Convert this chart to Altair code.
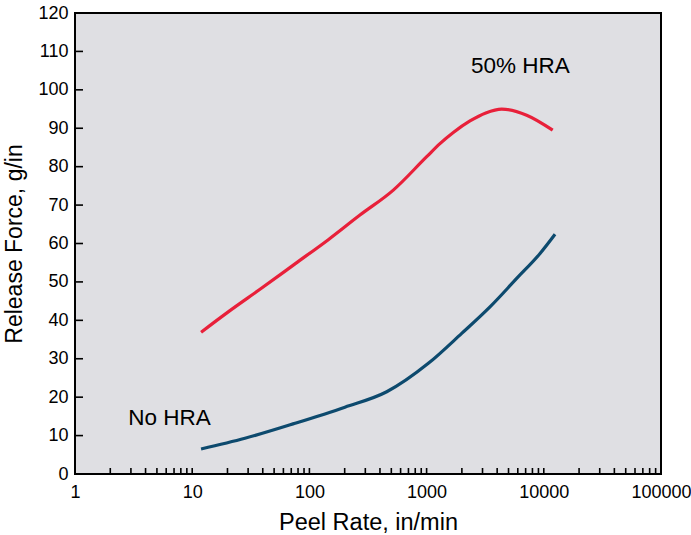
import altair as alt
import pandas as pd

# Release force vs peel rate, with and without HRA
rate_hra = [11.9, 20.3, 39.2, 75.4, 145, 270, 520, 1002, 1300, 1690, 2345, 3200, 4375, 7140, 11910]
force_hra = [36.9, 42.2, 48.4, 54.7, 61.0, 67.4, 73.9, 82.6, 86.0, 88.9, 91.9, 94.0, 95.0, 93.4, 89.5]

rate_none = [11.9, 28.2, 75.4, 201, 457, 1035, 1993, 3474, 5870, 9290, 12470]
force_none = [6.5, 9.3, 13.2, 17.4, 21.4, 28.8, 36.6, 43.5, 50.9, 57.4, 62.4]

series_names = ["50% HRA", "No HRA"]
series_colors = ["#e8203a", "#0d4a6e"]

label_text = ["50% HRA", "No HRA"]
label_rate = [6300, 6.4]
label_force = [106.3, 14.6]

x_decades = [1, 10, 100, 1000, 10000, 100000]
x_minor = [k * d for d in [1, 10, 100, 1000, 10000] for k in range(2, 10)]
y_ticks = list(range(10, 120, 10))
y_labels = list(range(0, 130, 10))

W, H = 586, 461
FONT = "Liberation Sans"

curves = pd.concat([
    pd.DataFrame({"rate": rate_hra, "force": force_hra, "series": series_names[0]}),
    pd.DataFrame({"rate": rate_none, "force": force_none, "series": series_names[1]}),
])
labels = pd.DataFrame({"rate": label_rate, "force": label_force, "text": label_text})
xticks = pd.DataFrame({"rate": x_decades + x_minor})
yticks = pd.DataFrame({"force": y_ticks})

x_scale = alt.Scale(type="log", domain=[1, 100000], nice=False)
y_scale = alt.Scale(domain=[0, 120], nice=False)

x_axis = alt.Axis(values=x_decades, format="d", title="Peel Rate, in/min",
                  grid=False, domain=False, ticks=False, labelPadding=9,
                  labelFontSize=18, titleFontSize=23.5, titlePadding=9,
                  labelColor="black", titleColor="black", titleFontWeight="normal",
                  labelFont=FONT, titleFont=FONT, labelFlush=False, labelOverlap=False)
y_axis = alt.Axis(values=y_labels, title="Release Force, g/in",
                  grid=False, domain=False, ticks=False, labelPadding=7,
                  labelFontSize=18, titleFontSize=23, titlePadding=11,
                  labelColor="black", titleColor="black", titleFontWeight="normal",
                  labelFont=FONT, titleFont=FONT, labelFlush=False, labelOverlap=False)

x_enc = alt.X("rate:Q", scale=x_scale, axis=x_axis)
y_enc = alt.Y("force:Q", scale=y_scale, axis=y_axis)

lines = alt.Chart(curves).mark_line(strokeWidth=3.2, interpolate="monotone").encode(
    x=x_enc,
    y=y_enc,
    color=alt.Color("series:N", scale=alt.Scale(domain=series_names, range=series_colors), legend=None),
    detail="series:N",
)

text = alt.Chart(labels).mark_text(fontSize=22.5, font=FONT, color="black").encode(
    x=x_enc,
    y=y_enc,
    text="text:N",
)

# inward tick marks along the bottom and left edges
x_tick_marks = alt.Chart(xticks).mark_rule(color="black", strokeWidth=1.6).encode(
    x=x_enc,
    y=alt.value(H),
    y2=alt.value(H - 6),
)
y_tick_marks = alt.Chart(yticks).mark_rule(color="black", strokeWidth=1.6).encode(
    y=y_enc,
    x=alt.value(0),
    x2=alt.value(8),
)

chart = alt.layer(lines, x_tick_marks, y_tick_marks, text).properties(
    width=W, height=H,
    autosize=alt.AutoSizeParams(type="none"),
    padding={"left": 75, "top": 13, "right": 30, "bottom": 61},
    background="white",
).configure_view(
    fill="#dfdfe3", stroke="black", strokeWidth=2,
)

chart.save("out.html", embed_options={"renderer": "svg", "actions": False})
